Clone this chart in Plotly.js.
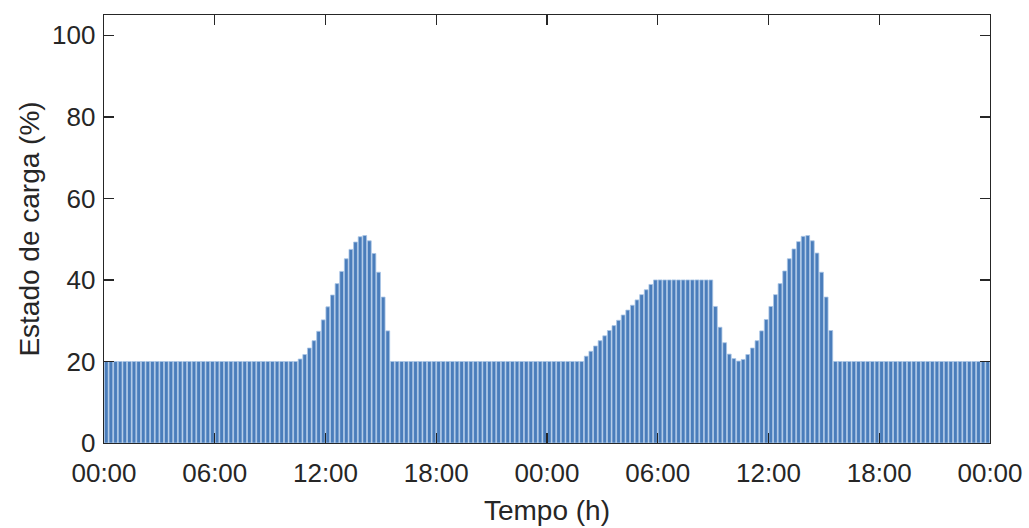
<!DOCTYPE html>
<html>
<head>
<meta charset="utf-8">
<script src="https://cdn.plot.ly/plotly-3.0.1.min.js"></script>
<style>html,body{margin:0;padding:0;background:#fff;}#chart{width:1029px;height:528px;}</style>
</head>
<body>
<div id="chart"></div>
<script>
// 15-minute slots over 48 hours (192 slots), x = hours since start
var soc = [
  20,20,20,20,20,20,20,20,20,20,20,20,20,20,20,20,20,20,20,20,20,20,20,20,
  20,20,20,20,20,20,20,20,20,20,20,20,20,20,20,20,20,20,20.6,21.7,23.3,25.1,27.4,30.2,
  33.4,36.3,39.1,42.1,45.2,47.5,49.3,50.6,50.9,49.6,46.5,41.9,35.8,27.5,20,20,20,20,20,20,20,20,20,20,
  20,20,20,20,20,20,20,20,20,20,20,20,20,20,20,20,20,20,20,20,20,20,20,20,
  20,20,20,20,20,20,20,20,21.3,22.5,23.8,25.1,26.3,27.6,28.8,30.1,31.4,32.6,33.8,35.1,36.4,37.6,38.9,40,
  40,40,40,40,40,40,40,40,40,40,40,40,33.5,28.4,24.6,21.8,20.7,20.1,20.5,21.7,23.3,25.1,27.5,30.3,
  33.5,36.4,39.1,42.2,45.2,47.6,49.4,50.7,50.9,49.6,46.6,41.9,35.8,27.6,20,20,20,20,20,20,20,20,20,20,
  20,20,20,20,20,20,20,20,20,20,20,20,20,20,20,20,20,20,20,20,20,20,20,20
];
var slotHours = 0.25;
var tickVals = [0, 6, 12, 18, 24, 30, 36, 42, 48];
var tickText = ["00:00", "06:00", "12:00", "18:00", "00:00", "06:00", "12:00", "18:00", "00:00"];
var yTicks = [0, 20, 40, 60, 80, 100];

var xs = soc.map(function (v, i) { return (i + 0.5) * slotHours; });

var trace = {
  type: 'bar',
  x: xs,
  y: soc,
  marker: { color: '#4a7dbb', line: { color: '#a9c5e6', width: 0.8 } },
  hoverinfo: 'x+y'
};

var axisCommon = {
  showline: true, linecolor: '#262626', linewidth: 1.3, mirror: 'ticks',
  ticks: 'inside', ticklen: 10, tickwidth: 1.3, tickcolor: '#262626',
  showgrid: false, zeroline: false,
  tickfont: { family: 'Liberation Sans, Arial, sans-serif', size: 26, color: '#262626' }
};

var layout = {
  width: 1029, height: 528,
  margin: { l: 104, r: 39, t: 15, b: 85 },
  paper_bgcolor: '#ffffff', plot_bgcolor: '#ffffff',
  bargap: 0.18,
  showlegend: false,
  xaxis: Object.assign({}, axisCommon, {
    range: [0, 48], tickmode: 'array', tickvals: tickVals, ticktext: tickText,
    ticklabelstandoff: 6,
    title: { text: 'Tempo (h)', standoff: 14,
      font: { family: 'Liberation Sans, Arial, sans-serif', size: 28, color: '#262626' } }
  }),
  yaxis: Object.assign({}, axisCommon, {
    range: [0, 105], tickmode: 'array', tickvals: yTicks,
    ticklabelstandoff: 2,
    title: { text: 'Estado de carga (%)', standoff: 4,
      font: { family: 'Liberation Sans, Arial, sans-serif', size: 28, color: '#262626' } }
  })
};

Plotly.newPlot('chart', [trace], layout, { displayModeBar: false, staticPlot: true });
</script>
</body>
</html>
